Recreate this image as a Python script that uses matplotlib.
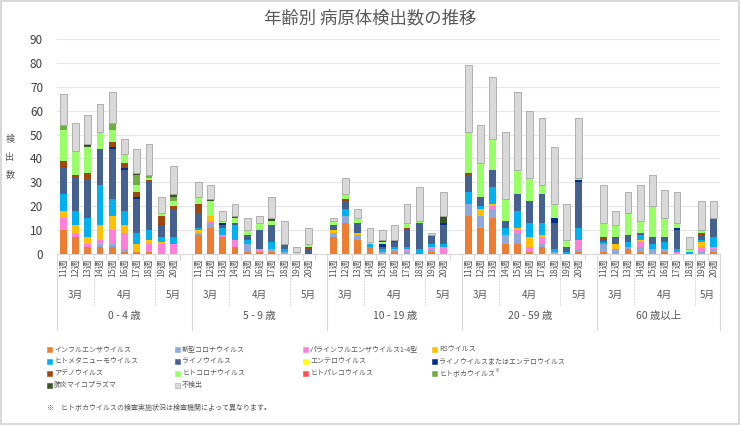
import numpy as np
import matplotlib
matplotlib.use("Agg")
import matplotlib.pyplot as plt
from matplotlib.patches import Rectangle

plt.rcParams['font.family'] = ['Noto Sans CJK JP', 'DejaVu Sans']

# ---------------- data ----------------
weeks = ['11週', '12週', '13週', '14週', '15週', '16週', '17週', '18週', '19週', '20週']
month_labels = ['3月', '4月', '5月']
month_weeks = [3, 5, 2]
age_groups = ['0 - 4 歳', '5 - 9 歳', '10 - 19 歳', '20 - 59 歳', '60 歳以上']

# one value per bar: 5 age groups x 10 weeks
influenza = [10, 7, 3, 3, 3, 1, 1, 1, 0, 0,
             8, 11, 7, 3, 1, 1, 1, 0, 0, 0,
             7, 13, 6, 3, 0, 1, 0, 0, 1, 0,
             16, 11, 15, 4, 4, 1, 3, 0, 0, 1,
             1, 0, 2, 1, 0, 1, 0, 0, 0, 1]
covid = [0, 0, 0, 1, 1, 1, 0, 0, 0, 0,
         1, 2, 0, 0, 3, 0, 1, 1, 0, 0,
         2, 3, 2, 0, 1, 1, 1, 0, 1, 0,
         5, 5, 4, 4, 5, 0, 1, 1, 0, 1,
         3, 2, 1, 2, 2, 1, 0, 0, 1, 1]
parainfluenza = [5, 2, 1, 2, 6, 7, 0, 3, 4, 4,
                 0, 1, 1, 3, 0, 1, 0, 0, 0, 0,
                 0, 0, 0, 0, 0, 0, 1, 0, 1, 3,
                 0, 0, 1, 0, 1, 2, 3, 0, 0, 4,
                 0, 0, 0, 2, 0, 0, 1, 0, 2, 1]
rsv = [3, 3, 3, 6, 6, 3, 3, 2, 1, 0,
       1, 2, 0, 0, 0, 0, 0, 0, 0, 0,
       1, 0, 1, 0, 0, 0, 0, 0, 0, 0,
       0, 3, 1, 0, 1, 4, 1, 0, 0, 0,
       0, 2, 0, 1, 0, 0, 0, 0, 2, 0]
hmpv = [7, 6, 8, 17, 7, 6, 5, 4, 2, 3,
        1, 0, 3, 6, 2, 0, 3, 1, 0, 0,
        0, 3, 0, 1, 1, 1, 1, 2, 1, 1,
        5, 1, 7, 3, 7, 6, 5, 1, 1, 5,
        1, 0, 2, 2, 2, 3, 1, 1, 1, 4]
rhino = [11, 14, 16, 15, 21, 17, 14, 20, 5, 12,
         6, 0, 1, 1, 2, 8, 7, 2, 0, 2,
         2, 3, 4, 0, 1, 2, 7, 11, 4, 8,
         7, 4, 7, 3, 7, 9, 12, 11, 2, 19,
         1, 3, 3, 1, 3, 2, 8, 0, 2, 8]
entero = [0] * 50
rhino_entero = [0, 0, 0, 0, 1, 1, 1, 0, 0, 0,
                0, 0, 1, 0, 0, 0, 0, 0, 0, 0,
                0, 0, 0, 0, 1, 0, 0, 0, 0, 1,
                0, 0, 0, 0, 0, 0, 0, 2, 0, 1,
                0, 0, 0, 0, 0, 0, 1, 0, 0, 0]
adeno = [3, 1, 3, 0, 2, 2, 2, 1, 4, 1,
         4, 0, 0, 0, 0, 0, 0, 0, 0, 1,
         0, 1, 0, 0, 0, 0, 1, 0, 0, 0,
         1, 0, 0, 0, 0, 0, 0, 0, 0, 0,
         1, 0, 0, 0, 0, 0, 0, 0, 1, 0]
hcorona = [13, 10, 11, 7, 5, 4, 3, 1, 1, 2,
           3, 6, 1, 2, 2, 3, 2, 0, 1, 1,
           2, 2, 2, 1, 1, 0, 2, 1, 0, 0,
           17, 14, 13, 9, 10, 10, 4, 6, 3, 1,
           6, 5, 9, 5, 13, 8, 2, 1, 1, 0]
parecho = [0] * 50
boca = [2, 0, 0, 0, 3, 0, 4, 1, 0, 2] + [0] * 40
mycoplasma = [0, 0, 1, 0, 0, 0, 1, 0, 0, 1,
              0, 1, 0, 1, 0, 0, 1, 0, 0, 0,
              0, 0, 0, 0, 1, 1, 0, 0, 0, 3,
              0, 0, 0, 0, 0, 0, 0, 0, 0, 0,
              0, 0, 0, 0, 0, 0, 0, 0, 0, 0]
not_detected = [13, 12, 12, 12, 13, 6, 10, 13, 7, 12,
                6, 6, 4, 5, 5, 3, 9, 10, 2, 7,
                1, 7, 4, 6, 4, 6, 8, 14, 1, 10,
                28, 16, 26, 28, 33, 28, 28, 24, 15, 25,
                16, 6, 9, 15, 13, 12, 13, 5, 12, 7]

series_names = ['インフルエンザウイルス', '新型コロナウイルス', 'パラインフルエンザウイルス1-4型', 'RSウイルス',
                'ヒトメタニューモウイルス', 'ライノウイルス', 'エンテロウイルス', 'ライノウイルスまたはエンテロウイルス',
                'アデノウイルス', 'ヒトコロナウイルス', 'ヒトパレコウイルス', 'ヒトボカウイルス',
                '肺炎マイコプラズマ', '不検出']
series_values = [influenza, covid, parainfluenza, rsv, hmpv, rhino, entero, rhino_entero,
                 adeno, hcorona, parecho, boca, mycoplasma, not_detected]
colors = ['#ED7D31', '#8EA9DB', '#FF7FD9', '#FFC000', '#00B0F0', '#44618F', '#FFFF00', '#002F8E',
          '#9E480E', '#99FF66', '#FF5050', '#70AD47', '#375623', '#D9D9D9']

# ---------------- layout ----------------
n_weeks = len(weeks)
slot = n_weeks + 1  # one empty slot between age groups
x = np.array([g * slot + i for g in range(len(age_groups)) for i in range(n_weeks)])

fig = plt.figure(figsize=(7.4, 4.25), dpi=100)
fig.patch.set_edgecolor('#D9D9D9')
fig.patch.set_linewidth(1.5)
ax = fig.add_axes([57 / 740, 1 - 254 / 425, (720 - 57) / 740, (254 - 39) / 425])

bottom = np.zeros(len(x))
for name, vals, c in zip(series_names, series_values, colors):
    vals = np.array(vals, dtype=float)
    if name == '不検出':
        ax.bar(x, vals, 0.55, bottom=bottom, color=c, edgecolor='#A6A6A6', linewidth=0.6, zorder=3)
    else:
        ax.bar(x, vals, 0.55, bottom=bottom, color=c, linewidth=0, zorder=3)
    bottom += vals

ax.set_xlim(-0.5, len(age_groups) * slot - 1.5)
ax.set_ylim(0, 90)
ax.set_yticks(range(0, 91, 10))
ax.tick_params(axis='y', length=0, labelsize=8.5, labelcolor='#404040', pad=10)
ax.yaxis.grid(True, color='#E6E6E6', linewidth=0.8, zorder=0)
for s in ['top', 'right', 'left']:
    ax.spines[s].set_visible(False)
ax.spines['bottom'].set_color('#D9D9D9')

ax.set_xticks(x, weeks * len(age_groups), rotation=90, fontsize=6.3, color='#595959')
ax.tick_params(axis='x', length=0, pad=3)
minor = [b for g in range(len(age_groups)) for b in g * slot + np.arange(n_weeks) + 0.5]
ax.set_xticks(minor, minor=True)
ax.tick_params(axis='x', which='minor', length=4, color='#D9D9D9', width=0.8)

# multi-level category labels
tr = ax.get_xaxis_transform()
h = 215.0
for g, age in enumerate(age_groups):
    start = g * slot - 0.5
    end = start + (slot if g < len(age_groups) - 1 else n_weeks)
    ax.plot([start, start], [0, -76 / h], transform=tr, color='#D9D9D9', lw=0.8, clip_on=False)
    ax.text((start + end) / 2, -62 / h, age, transform=tr, ha='center', va='center',
            fontsize=7.5, color='#595959')
    pos = start
    for k, (m, n) in enumerate(zip(month_labels, month_weeks)):
        m_end = pos + n
        if k == len(month_labels) - 1:
            m_end = end
        else:
            ax.plot([m_end, m_end], [0, -51 / h], transform=tr, color='#D9D9D9', lw=0.7,
                    ls=(0, (2, 1)), clip_on=False)
        ax.text((pos + m_end) / 2, -41 / h, m, transform=tr, ha='center', va='center',
                fontsize=7, color='#595959')
        pos = m_end
ax.plot([end, end], [0, -76 / h], transform=tr, color='#D9D9D9', lw=0.8, clip_on=False)

fig.text(0.5, 1 - 18 / 425, '年齢別 病原体検出数の推移', ha='center', va='center', fontsize=12.5, color='#595959')
fig.text(10 / 740, 1 - 157 / 425, '検\n出\n数', ha='center', va='center', fontsize=6.5,
         color='#595959', linespacing=2.2)

# legend
col_x = [47, 175, 303, 432]
row_y = [349, 361, 373, 385]
for k, (name, c) in enumerate(zip(series_names, colors)):
    px = col_x[k % 4]
    py = row_y[k // 4]
    fig.patches.append(Rectangle((px / 740, 1 - (py + 2.5) / 425), 5 / 740, 5 / 425, transform=fig.transFigure,
                                 facecolor=c, edgecolor='#A6A6A6' if name == '不検出' else c, linewidth=0.4))
    t = fig.text((px + 7) / 740, 1 - py / 425, name, ha='left', va='center', fontsize=5, color='#595959')
    if name == 'ヒトボカウイルス':
        fig.text((px + 7 + 8 * 6.9) / 740, 1 - (py - 3) / 425, '※', ha='left', va='center',
                 fontsize=3.5, color='#595959')

fig.text(47 / 740, 1 - 408 / 425, '※　ヒトボカウイルスの検査実施状況は検査機関によって異なります。',
         ha='left', va='center', fontsize=5, color='#595959')

fig.savefig('out.png', dpi=100)
